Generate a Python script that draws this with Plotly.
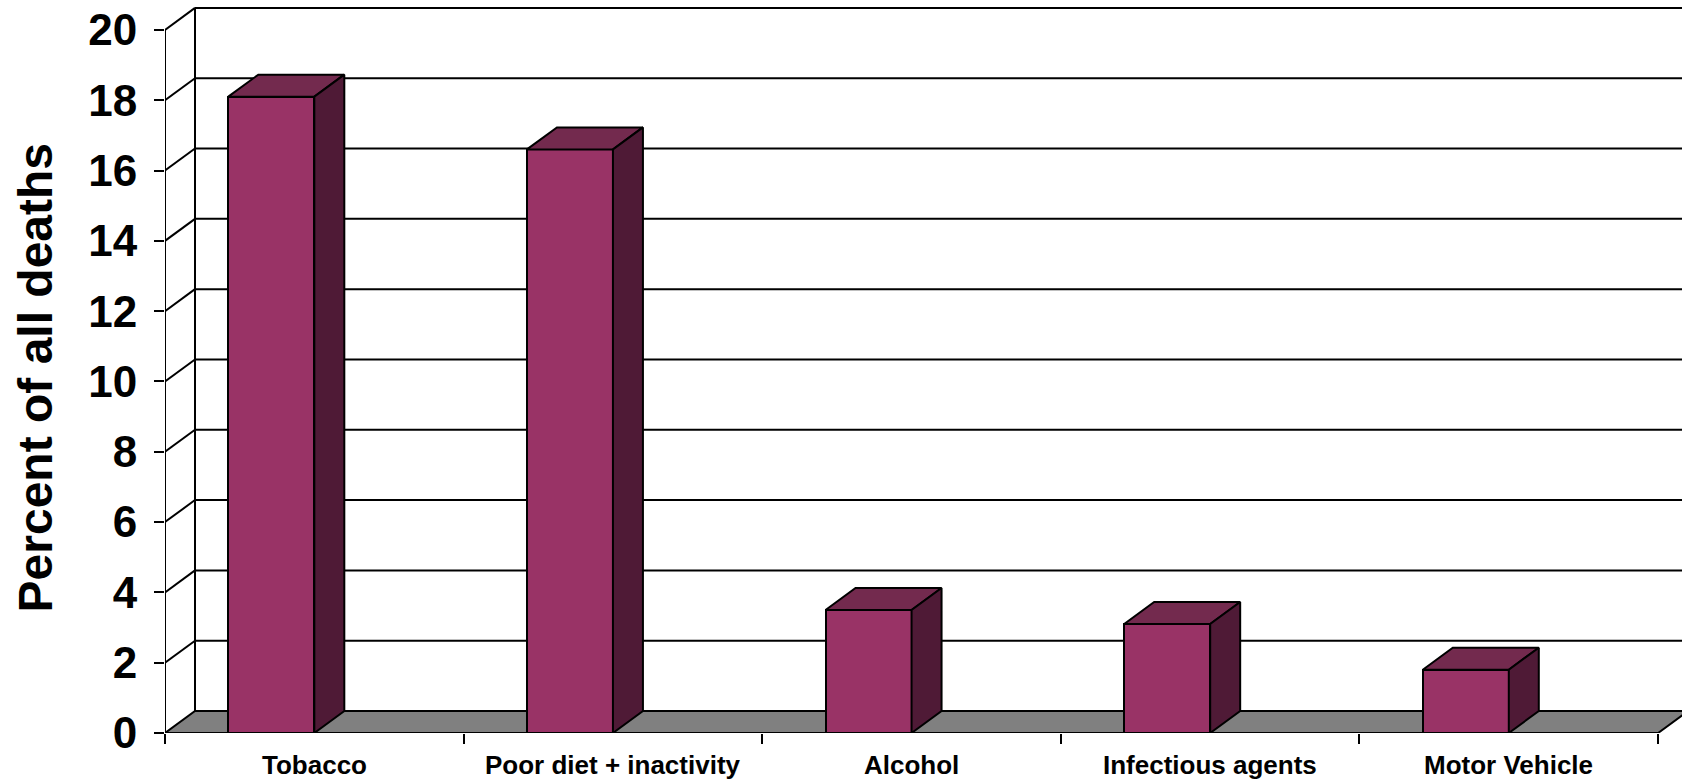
import plotly.graph_objects as go

# Leading causes of death (percent of all deaths)
categories = ["Tobacco", "Poor diet + inactivity", "Alcohol", "Infectious agents", "Motor Vehicle"]
values = [18.1, 16.6, 3.5, 3.1, 1.8]
y_ticks = [0, 2, 4, 6, 8, 10, 12, 14, 16, 18, 20]

FONT = "Arial, 'Liberation Sans', sans-serif"
FRONT = "#993366"
TOP = "#732a4e"
SIDE = "#4f1a36"
FLOOR = "#808080"

W, H = 1682, 780
ML, MR, MT, MB = 165, 0, 0, 47
X_RANGE = [-0.5, 4.58]
Y_RANGE = [0, 20.85]

px_per_x = (W - ML - MR) / (X_RANGE[1] - X_RANGE[0])
px_per_y = (H - MT - MB) / (Y_RANGE[1] - Y_RANGE[0])

# 3-D depth offset (right and up), expressed in axis units
DX = 30 / px_per_x
DY = 22 / px_per_y
BAR_W = 0.288

n = len(categories)
x_left, x_right = -0.5, n - 0.5

fig = go.Figure()

shapes = []
# floor
shapes.append(dict(
    type="path", layer="below", xref="x", yref="y",
    path=f"M {x_left},0 L {x_right},0 L {x_right + DX},{DY} L {x_left + DX},{DY} Z",
    fillcolor=FLOOR, line=dict(color="black", width=2),
))
# back-wall gridlines and their diagonal connectors
for v in y_ticks:
    if v > 0:
        shapes.append(dict(type="line", layer="below", xref="x", yref="y",
                           x0=x_left + DX, y0=v + DY, x1=x_right + DX, y1=v + DY,
                           line=dict(color="black", width=2)))
        shapes.append(dict(type="line", layer="below", xref="x", yref="y",
                           x0=x_left, y0=v, x1=x_left + DX, y1=v + DY,
                           line=dict(color="black", width=2)))
# back-wall left edge
shapes.append(dict(type="line", layer="below", xref="x", yref="y",
                   x0=x_left + DX, y0=DY, x1=x_left + DX, y1=y_ticks[-1] + DY,
                   line=dict(color="black", width=2)))
# front value axis
shapes.append(dict(type="line", layer="above", xref="x", yref="y",
                   x0=x_left, y0=0, x1=x_left, y1=y_ticks[-1],
                   line=dict(color="black", width=2)))

# front faces of the bars
fig.add_trace(go.Bar(
    x=list(range(n)), y=values, width=BAR_W, offset=-BAR_W,
    marker=dict(color=FRONT, line=dict(color="black", width=2)),
    showlegend=False, hoverinfo="skip",
))

# top and side faces
for i, v in enumerate(values):
    xl, xr = i - BAR_W, i
    fig.add_trace(go.Scatter(
        x=[xl, xr, xr + DX, xl + DX, xl], y=[v, v, v + DY, v + DY, v],
        mode="lines", fill="toself", fillcolor=TOP,
        line=dict(color="black", width=2), showlegend=False, hoverinfo="skip",
    ))
    fig.add_trace(go.Scatter(
        x=[xr, xr, xr + DX, xr + DX, xr], y=[0, v, v + DY, DY, 0],
        mode="lines", fill="toself", fillcolor=SIDE,
        line=dict(color="black", width=2), showlegend=False, hoverinfo="skip",
    ))

annotations = []
for i, c in enumerate(categories):
    annotations.append(dict(
        x=i, y=0, xref="x", yref="y", yshift=-32, showarrow=False,
        text=f"<b>{c}</b>", font=dict(family=FONT, size=26, color="black"),
        xanchor="center", yanchor="middle",
    ))
annotations.append(dict(
    x=(35.5 - ML) / (W - ML - MR), y=10.1, xref="paper", yref="y",
    showarrow=False, textangle=-90,
    text="<b>Percent of all deaths</b>", font=dict(family=FONT, size=48, color="black"),
    xanchor="center", yanchor="middle",
))

fig.update_layout(
    width=W, height=H,
    margin=dict(l=ML, r=MR, t=MT, b=MB, pad=0),
    paper_bgcolor="white", plot_bgcolor="white",
    shapes=shapes, annotations=annotations,
    bargap=0,
    xaxis=dict(
        range=X_RANGE, showgrid=False, zeroline=False, showline=False,
        tickmode="array", tickvals=[k - 0.5 for k in range(n + 1)],
        showticklabels=False, ticks="outside", ticklen=10, tickwidth=2, tickcolor="black",
        fixedrange=True,
    ),
    yaxis=dict(
        range=Y_RANGE, showgrid=False, zeroline=False, showline=False,
        tickmode="array", tickvals=y_ticks, ticktext=[str(t) for t in y_ticks],
        ticks="outside", ticklen=10, tickwidth=2, tickcolor="black",
        ticklabelstandoff=8,
        tickfont=dict(family=FONT, size=44, color="black", weight="bold"),
        fixedrange=True,
    ),
)

fig.write_html("out.html", config={"displayModeBar": False})
